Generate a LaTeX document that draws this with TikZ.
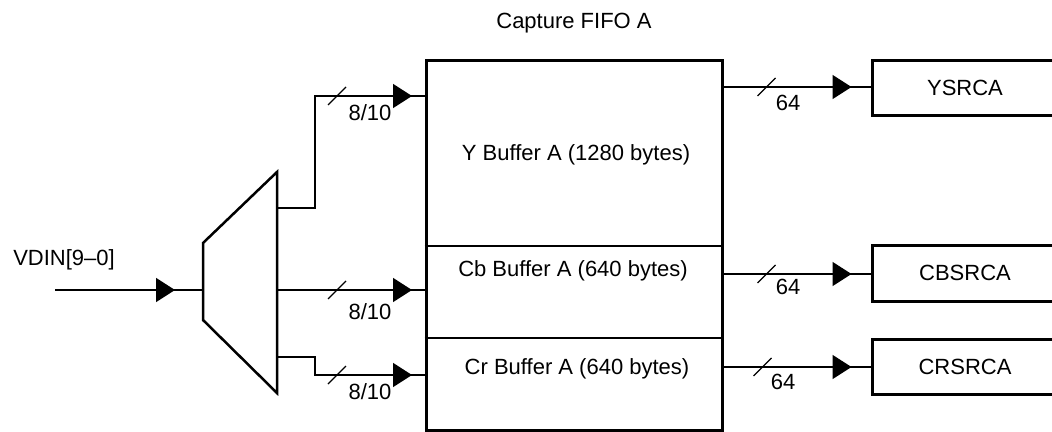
\documentclass[tikz,border=0pt]{standalone}
\usepackage{fontspec}
\setmainfont{Liberation Sans}
\usetikzlibrary{arrows.meta,decorations.markings}
\tikzset{
  wire/.style={line width=1.5pt},
  thickbox/.style={draw, line width=3pt, inner sep=0pt},
  partline/.style={line width=1.8pt},
  muxline/.style={line width=2.5pt, line join=miter},
  lbl/.style={inner sep=0pt},
  arrowat/.style={postaction={decorate,decoration={markings,mark=at position #1 with {\arrow{Triangle[length=19pt,width=24pt]}}}}},
  slashat/.style={postaction={decorate,decoration={markings,mark=at position #1 with {\draw[line width=1.2pt] (-9pt,-9pt) -- (9pt,9pt);}}}}
}
\begin{document}
\begin{tikzpicture}[x=1pt,y=-1pt,font=\fontsize{22}{26}\selectfont]
\path[use as bounding box, clip] (0,0) rectangle (1052,431);

% main FIFO box
\node[thickbox, minimum width=296pt, minimum height=370pt] (fifo) at (574,245) {};
\coordinate (p1) at (0,246);
\coordinate (p2) at (0,338);
\draw[partline] (fifo.west |- p1) -- (fifo.east |- p1);
\draw[partline] (fifo.west |- p2) -- (fifo.east |- p2);
\node[lbl] (title) at (574,23) {Capture FIFO A};
\node[lbl] (ybuf) at (576,155) {Y Buffer A (1280 bytes)};
\node[lbl] (cbbuf) at (573,271) {Cb Buffer A (640 bytes)};
\node[lbl] (crbuf) at (577,369) {Cr Buffer A (640 bytes)};

% destination boxes
\node[thickbox, minimum width=186pt, minimum height=55pt] (ysrc) at (965,87.5) {YSRCA};
\node[thickbox, minimum width=186pt, minimum height=56pt] (cbsrc) at (965,273) {CBSRCA};
\node[thickbox, minimum width=186pt, minimum height=55pt] (crsrc) at (965,366.5) {CRSRCA};

% mux
\coordinate (m1) at (203,243);
\coordinate (m2) at (277,172);
\coordinate (m3) at (277,393);
\coordinate (m4) at (203,320);
\draw[muxline] (m1) -- (m2) -- (m3) -- (m4) -- cycle;
\coordinate (mi) at (203,290);
\coordinate (mo1) at (277,208);
\coordinate (mo2) at (277,290);
\coordinate (mo3) at (277,357);
\coordinate (vin) at (55,290);
\coordinate (fi1) at (426,96);
\coordinate (fi2) at (426,290);
\coordinate (fi3) at (426,375);

\node[lbl] (vdin) at (64,260) {VDIN[9–0]};
\draw[wire, arrowat=-28pt] (vin) -- (mi);

\draw[wire, arrowat=-14pt, slashat=-89pt] (mo1) -- ++(38,0) |- (fi1);
\draw[wire, arrowat=-14pt, slashat=-89pt] (mo2) -- (fi2);
\draw[wire, arrowat=-14pt, slashat=-89pt] (mo3) -- ++(38,0) |- (fi3);
\node[lbl] (w1) at (370,113) {8/10};
\node[lbl] (w2) at (370,312) {8/10};
\node[lbl] (w3) at (370,392) {8/10};

% outputs
\coordinate (q1) at (0,87);
\coordinate (q2) at (0,274);
\coordinate (q3) at (0,367);
\draw[wire, arrowat=-19pt, slashat=-104pt] (fifo.east |- q1) -- (ysrc.west |- q1);
\draw[wire, arrowat=-19pt, slashat=-104pt] (fifo.east |- q2) -- (cbsrc.west |- q2);
\draw[wire, arrowat=-19pt, slashat=-108pt] (fifo.east |- q3) -- (crsrc.west |- q3);
\node[lbl] (b1) at (788,103) {64};
\node[lbl] (b2) at (788,287) {64};
\node[lbl] (b3) at (783,382) {64};
\end{tikzpicture}
\end{document}
